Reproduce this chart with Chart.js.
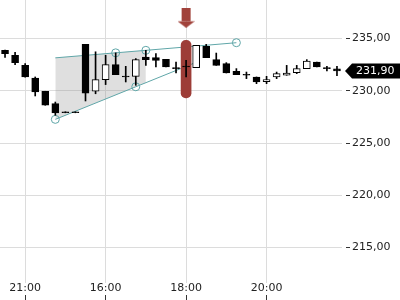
<!DOCTYPE html>
<html>
<head>
<meta charset="utf-8">
<script src="https://cdn.jsdelivr.net/npm/chart.js@4/dist/chart.umd.min.js"></script>
<style>
  html, body { margin: 0; padding: 0; background: #fff; }
  #wrap { width: 400px; height: 300px; }
</style>
</head>
<body>
<div id="wrap"><canvas id="c" width="400" height="300"></canvas></div>
<script>
// ---- data ----
const categories = ["20:30","20:45","21:00","21:15","21:30","21:45","15:00","15:15","15:30","15:45",
  "16:00","16:15","16:30","16:45","17:00","17:15","17:30","17:45","18:00","18:15",
  "18:30","18:45","19:00","19:15","19:30","19:45","20:00","20:15","20:30","20:45",
  "21:00","21:15","21:30","21:45"];
const openP  = [233.88,233.40,232.44,231.23,229.96,228.78,227.90,227.90,234.45,229.96,
  231.08,232.51,231.33,231.39,233.24,233.18,233.02,232.13,232.28,232.22,
  234.26,232.99,232.61,231.87,231.49,231.33,230.89,231.33,231.49,231.75,
  232.13,232.76,232.13,232.10];
const highP  = [233.90,233.69,232.61,231.33,229.96,228.93,227.90,227.90,234.45,233.74,
  233.40,233.64,232.35,233.09,233.88,233.56,233.02,232.76,232.92,234.36,
  234.45,233.62,232.70,232.13,231.80,231.33,231.39,231.80,232.44,232.44,
  232.99,232.76,232.35,232.35];
const lowP   = [233.21,232.51,231.30,229.51,228.62,227.66,227.90,227.90,229.03,229.72,
  230.60,231.55,230.85,230.53,232.44,232.28,232.28,231.71,231.33,232.22,
  233.18,232.44,231.71,231.55,231.17,230.69,230.69,231.17,231.49,231.65,
  232.13,232.28,231.90,231.45];
const closeP = [233.56,232.70,231.33,229.89,228.62,227.88,227.90,227.90,229.79,231.08,
  232.51,231.55,231.33,232.99,232.99,232.92,232.28,232.13,232.28,234.36,
  233.18,232.44,231.71,231.55,231.49,230.85,231.08,231.65,231.71,232.13,
  232.86,232.28,232.13,231.90];
const yTicks = [215, 220, 225, 230, 235];
const lastPrice = 231.90;
// drawn pattern (wedge) anchors: candle index and price
const upperIdx = [5, 11, 14, 23];
const upperVal = [233.16, 233.64, 233.88, 234.61];
const upperMarked = [11, 14, 23];
const lowerIdx = [5, 13, 19];
const lowerVal = [227.27, 230.39, 232.73];
const lowerMarked = [5, 13];
const wedgeIdx = [5, 14];
const wedgeTopVal = [233.16, 233.88];
const wedgeBottomVal = [227.27, 230.78];
// signal marker
const signalIndex = 18;
const signalRange = [229.33, 234.84];
const arrowVal = 237.0;

// ---- styles ----
const TEAL = '#5fa6a8';
const RED = '#9d3d37';
const GRID = '#dcdcdc';
const TXT = '#222';
const fmt = v => v.toFixed(2).replace('.', ',');
const series = (idx, vals) => categories.map((_, i) => { const k = idx.indexOf(i); return k >= 0 ? vals[k] : null; });

function makeArrow() {
  const c = document.createElement('canvas');
  c.width = 17; c.height = 20;
  const g = c.getContext('2d');
  g.fillStyle = '#a1423b';
  g.fillRect(4, 0, 9, 13.5);
  g.beginPath(); g.moveTo(0, 13.5); g.lineTo(17, 13.5); g.lineTo(8.5, 20); g.closePath(); g.fill();
  return c;
}

const priceTag = {
  id: 'priceTag',
  afterDraw(chart) {
    const ctx = chart.ctx;
    const y = chart.scales.y.getPixelForValue(lastPrice);
    const x0 = chart.chartArea.right + 3;
    const x1 = x0 + 7;
    const h = 7.5;
    ctx.save();
    ctx.fillStyle = '#000';
    ctx.beginPath();
    ctx.moveTo(x0, y); ctx.lineTo(x1, y - h); ctx.lineTo(chart.width, y - h);
    ctx.lineTo(chart.width, y + h); ctx.lineTo(x1, y + h); ctx.closePath(); ctx.fill();
    ctx.fillStyle = '#fff';
    ctx.font = '11px "DejaVu Sans"';
    ctx.textBaseline = 'middle';
    ctx.textAlign = 'left';
    ctx.fillText(fmt(lastPrice), x1 + 4, y + 0.5);
    ctx.restore();
  }
};

Chart.defaults.font.family = '"DejaVu Sans", sans-serif';
Chart.defaults.font.size = 11;
Chart.defaults.color = TXT;

new Chart(document.getElementById('c'), {
  type: 'bar',
  data: {
    labels: categories,
    datasets: [
      { type: 'line', data: series(wedgeIdx, wedgeTopVal), spanGaps: true, borderWidth: 0, pointRadius: 0,
        fill: '+1', backgroundColor: 'rgba(150,150,150,0.3)', order: 7 },
      { type: 'line', data: series(wedgeIdx, wedgeBottomVal), spanGaps: true, borderWidth: 0, pointRadius: 0,
        fill: false, order: 7 },
      { type: 'line', data: series(upperIdx, upperVal), spanGaps: true, borderColor: TEAL, borderWidth: 1,
        tension: 0, fill: false,
        pointRadius: c => upperMarked.includes(c.dataIndex) ? 4 : 0,
        pointBorderColor: TEAL, pointBackgroundColor: 'rgba(0,0,0,0)', pointBorderWidth: 1, order: 6 },
      { type: 'line', data: series(lowerIdx, lowerVal), spanGaps: true, borderColor: TEAL, borderWidth: 1,
        tension: 0, fill: false,
        pointRadius: c => lowerMarked.includes(c.dataIndex) ? 4 : 0,
        pointBorderColor: TEAL, pointBackgroundColor: 'rgba(0,0,0,0)', pointBorderWidth: 1, order: 5 },
      { type: 'bar', data: categories.map((_, i) => i === signalIndex ? signalRange : null),
        backgroundColor: RED, barThickness: 10, borderRadius: 5, borderSkipped: false,
        grouped: false, order: 4 },
      { type: 'bar', data: categories.map((_, i) => [lowP[i], highP[i]]),
        backgroundColor: '#000', barThickness: 1, grouped: false, minBarLength: 1, order: 3 },
      { type: 'bar', data: categories.map((_, i) => [openP[i], closeP[i]]),
        backgroundColor: categories.map((_, i) => closeP[i] > openP[i] ? '#fff' : '#000'),
        borderColor: '#000', borderWidth: 1, borderSkipped: false,
        barThickness: 7, grouped: false, minBarLength: 1, order: 2 },
      { type: 'line', data: categories.map((_, i) => i === signalIndex ? arrowVal : null), showLine: false,
        pointStyle: makeArrow(), pointRadius: 10, order: 1 }
    ]
  },
  options: {
    responsive: false,
    animation: false,
    events: [],
    layout: { padding: 0, autoPadding: false },
    plugins: { legend: { display: false }, tooltip: { enabled: false } },
    scales: {
      x: {
        type: 'category',
        offset: true,
        border: { display: false },
        grid: { offset: false, color: GRID, tickColor: '#333', tickLength: 17,
                tickBorderDash: [5, 12], tickBorderDashOffset: 5 },
        ticks: { autoSkip: false, maxRotation: 0, padding: -18, color: TXT },
        afterBuildTicks: s => { s.ticks = s.ticks.filter(t => t.value % 8 === 2); },
        afterFit: s => { s.height = 17; s.paddingLeft = 0; s.paddingRight = 0; }
      },
      y: {
        type: 'linear',
        position: 'right',
        min: 211.6,
        max: 238.7,
        border: { display: false },
        grid: { color: GRID, tickColor: '#333', tickLength: 8,
                tickBorderDash: [4, 4], tickBorderDashOffset: 4 },
        ticks: { stepSize: 5, includeBounds: false, padding: 2, color: TXT,
                 callback: v => yTicks.includes(v) ? fmt(v) : '' },
        afterFit: s => { s.width = 58; s.paddingTop = 0; s.paddingBottom = 0; }
      }
    }
  },
  plugins: [priceTag]
});
</script>
</body>
</html>
